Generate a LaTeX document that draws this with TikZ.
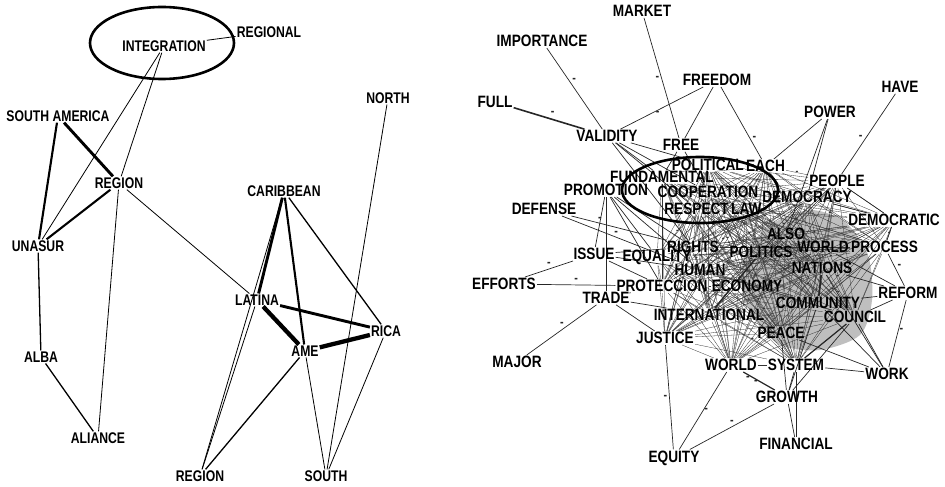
\documentclass[tikz,border=0pt]{standalone}
\usepackage{fontspec}
\newfontfamily\lfont[FakeStretch=0.79]{Liberation Sans}
\newfontfamily\rfont[FakeStretch=0.83]{Liberation Sans}
\usetikzlibrary{backgrounds}

\begin{document}
\begin{tikzpicture}[x=1bp,y=-1bp,
    lword/.style={font=\lfont\bfseries\fontsize{15.5}{16}\selectfont, inner sep=1bp},
    rword/.style={font=\rfont\bfseries\fontsize{16.5}{17}\selectfont, inner sep=1bp},
    w1/.style={line width=0.8bp},
    w2/.style={line width=1.3bp},
    w3/.style={line width=2.1bp},
    w4/.style={line width=2.9bp},
    w5/.style={line width=4.3bp},
    redge/.style={line width=0.7bp, black!85},
    mesh/.style={line width=0.3bp, black!80},
    sign/.style={font=\rfont\bfseries\fontsize{13}{13}\selectfont, inner sep=0pt},
    msign/.style={font=\rfont\bfseries\fontsize{10}{10}\selectfont, inner sep=0pt},
    ring/.style={line width=2.6bp}]
\useasboundingbox (0,0) rectangle (945,487);

% left graph
\node[lword] (integ) at (164,46) {INTEGRATION};
\node[lword] (regional) at (269,32) {REGIONAL};
\node[lword] (samerica) at (58,116) {SOUTH AMERICA};
\node[lword] (region) at (119,183) {REGION};
\node[lword] (unasur) at (38,246) {UNASUR};
\node[lword] (alba) at (41,357) {ALBA};
\node[lword] (aliance) at (98,438) {ALIANCE};
\node[lword] (north) at (388,98) {NORTH};
\node[lword] (caribbean) at (284,191) {CARIBBEAN};
\node[lword] (latina) at (257,300) {LATINA};
\node[lword] (rica) at (386,331) {RICA};
\node[lword] (ame) at (305,351) {AME};
\node[lword] (regionb) at (200,476) {REGION};
\node[lword] (south) at (326,476) {SOUTH};
\draw[ring] (162,43) ellipse [x radius=72bp, y radius=36bp];

\begin{pgfonlayer}{background}
\draw[w1] (integ) -- (regional);
\draw[w1] (integ) -- (unasur);
\draw[w1] (integ) -- (region);
\draw[w4] (samerica) -- (region);
\draw[w3] (samerica) -- (unasur);
\draw[w3] (region) -- (unasur);
\draw[w1] (region) -- (aliance);
\draw[w1] (region) -- (latina);
\draw[w2] (unasur) -- (alba);
\draw[w2] (alba) -- (aliance);
\draw[w4] (caribbean) -- (latina);
\draw[w3] (caribbean) -- (ame);
\draw[w2] (caribbean) -- (rica);
\draw[w1] (caribbean) -- (regionb);
\draw[w1] (latina) -- (regionb);
\draw[w2] (ame) -- (regionb);
\draw[w5] (latina) -- (ame);
\draw[w4] (latina) -- (rica);
\draw[w5] (ame) -- (rica);
\draw[w1] (ame) -- (south);
\draw[w1] (rica) -- (south);
\draw[w1] (north) -- (south);
\end{pgfonlayer}

% right graph
\node[rword] (market) at (642,11) {MARKET};
\node[rword] (importance) at (542,41) {IMPORTANCE};
\node[rword] (freedom) at (717,80) {FREEDOM};
\node[rword] (have) at (900,87) {HAVE};
\node[rword] (full) at (495,102) {FULL};
\node[rword] (power) at (830,112) {POWER};
\node[rword] (validity) at (607,136) {VALIDITY};
\node[rword] (free) at (681,145) {FREE};
\node[rword, anchor=east] (political) at (745,165) {POLITICAL};
\node[rword, anchor=west] (each) at (745,166) {EACH};
\node[rword] (fundamental) at (662,177) {FUNDAMENTAL};
\node[rword] (people) at (837,181) {PEOPLE};
\node[rword] (promotion) at (606,190) {PROMOTION};
\node[rword] (cooperation) at (708,192) {COOPERATION};
\node[rword] (democracy) at (807,197) {DEMOCRACY};
\node[rword] (defense) at (544,209) {DEFENSE};
\node[rword, anchor=east] (respect) at (730,209) {RESPECT};
\node[rword, anchor=west] (law) at (730,209) {LAW};
\node[rword] (democratic) at (894,220) {DEMOCRATIC};
\node[rword] (also) at (786,234) {ALSO};
\node[rword] (rights) at (693,247) {RIGHTS};
\node[rword] (politics) at (761,252) {POLITICS};
\node[rword, anchor=east] (world) at (850,247) {WORLD};
\node[rword, anchor=west] (process) at (850,247) {PROCESS};
\node[rword] (issue) at (594,254) {ISSUE};
\node[rword] (equality) at (657,257) {EQUALITY};
\node[rword] (human) at (700,270) {HUMAN};
\node[rword] (nations) at (822,268) {NATIONS};
\node[rword] (efforts) at (504,284) {EFFORTS};
\node[rword] (proteccion) at (662,286) {PROTECCION};
\node[rword] (economy) at (747,286) {ECONOMY};
\node[rword] (trade) at (606,298) {TRADE};
\node[rword] (reform) at (908,293) {REFORM};
\node[rword] (community) at (818,303) {COMMUNITY};
\node[rword] (international) at (709,315) {INTERNATIONAL};
\node[rword] (council) at (855,317) {COUNCIL};
\node[rword] (justice) at (665,338) {JUSTICE};
\node[rword] (peace) at (781,333) {PEACE};
\node[rword] (major) at (517,362) {MAJOR};
\node[rword] (worldb) at (731,365) {WORLD};
\node[rword] (system) at (796,365) {SYSTEM};
\node[rword] (work) at (887,374) {WORK};
\node[rword] (growth) at (787,397) {GROWTH};
\node[rword] (financial) at (796,444) {FINANCIAL};
\node[rword] (equity) at (674,458) {EQUITY};
\draw[ring] (700,190) ellipse [x radius=78bp, y radius=33bp];

\begin{pgfonlayer}{background}
\fill[gray!50] plot[smooth cycle] coordinates {(745,255) (770,225) (810,210) (845,222) (868,255)
    (872,300) (860,335) (820,350) (780,345) (755,320) (742,290)};
% dense core
\foreach \a [count=\i] in {fundamental,political,each,cooperation,respect,law,democracy,people,
    democratic,also,rights,politics,world,process,equality,human,nations,proteccion,economy,
    community,international,council,justice,peace,worldb,system}
  \foreach \b [count=\j] in {fundamental,political,each,cooperation,respect,law,democracy,people,
    democratic,also,rights,politics,world,process,equality,human,nations,proteccion,economy,
    community,international,council,justice,peace,worldb,system}
  {
    \ifnum\j>\i
      \pgfmathtruncatemacro\k{mod(\i*7+\j*3,5)}
      \ifnum\k=0
        \draw[mesh] (\a) -- node[msign] {-} (\b);
      \else
        \draw[mesh] (\a) -- (\b);
      \fi
    \fi
  }
\draw[redge] (market) -- node[sign, left=2bp] {-} (free);
\draw[redge] (importance) -- node[sign, pos=0.4, right=3bp] {-} (validity);
\draw[redge, line width=1.6bp] (full) -- node[sign, pos=0.55, above=3bp] {-} (validity);
\draw[redge] (freedom) -- node[sign, pos=0.55, below=1bp] {-} (validity);
\draw[redge] (freedom) -- (free);
\draw[redge] (freedom) -- node[sign, pos=0.72, right=2bp] {-} (each);
\draw[redge] (have) -- node[sign, pos=0.55, left=3bp] {-} (people);
\foreach \t in {democracy,also,each}
  \draw[redge] (power) -- (\t);
\foreach \t in {fundamental,cooperation,political,respect,rights}
  \draw[redge] (validity) -- (\t);
\foreach \t in {fundamental,cooperation}
  \draw[redge] (free) -- (\t);
\foreach \t in {issue,equality,trade,proteccion,rights,human}
  \draw[redge] (promotion) -- (\t);
\draw[redge] (defense) -- node[sign, pos=0.3, above=1bp] {-} (rights);
\draw[redge] (defense) -- node[sign, pos=0.45, above=1bp] {-} (human);
\draw[redge] (issue) -- node[sign, above=2bp] {-} (efforts);
\foreach \t in {rights,proteccion,human}
  \draw[redge] (issue) -- (\t);
\draw[redge] (efforts) -- node[sign, above=2bp] {-} (proteccion);
\draw[redge] (trade) -- node[sign, pos=0.45, above left=1bp] {-} (major);
\foreach \t in {international,justice,proteccion}
  \draw[redge] (trade) -- (\t);
\draw[redge] (justice) -- node[sign, left=2bp] {-} (equity);
\draw[redge] (worldb) -- node[sign, pos=0.5, right=1bp] {-} (equity);
\draw[redge] (growth) -- node[sign, pos=0.5, above=2bp] {-} (equity);
\draw[redge] (growth) -- (financial);
\draw[redge] (system) -- (financial);
\draw[redge, line width=1.2bp] (worldb) -- node[sign, pos=0.15, below=1bp] {-} node[sign, pos=0.4, below=1bp] {-} (growth);
\foreach \t in {system,peace,council,community}
  \draw[redge] (\t) -- (growth);
\draw[redge, line width=1.2bp] (council) -- (system);
\foreach \t in {council,peace,community,nations,system}
  \draw[redge] (\t) -- (work);
\draw[redge] (reform) -- node[sign, pos=0.45, right=1bp] {-} (work);
\draw[redge] (process) -- node[sign, pos=0.5, above right=1bp] {-} (reform);
\foreach \t in {world,nations,community,council}
  \draw[redge] (\t) -- (reform);
\foreach \t in {process,people,democracy}
  \draw[redge] (democratic) -- (\t);
\draw[redge] (people) -- (democracy);
\draw[redge, line width=1.4bp] (politics) -- (international);
\draw[redge, line width=1.6bp] (nations) -- (community);
\end{pgfonlayer}
\end{tikzpicture}
\end{document}
